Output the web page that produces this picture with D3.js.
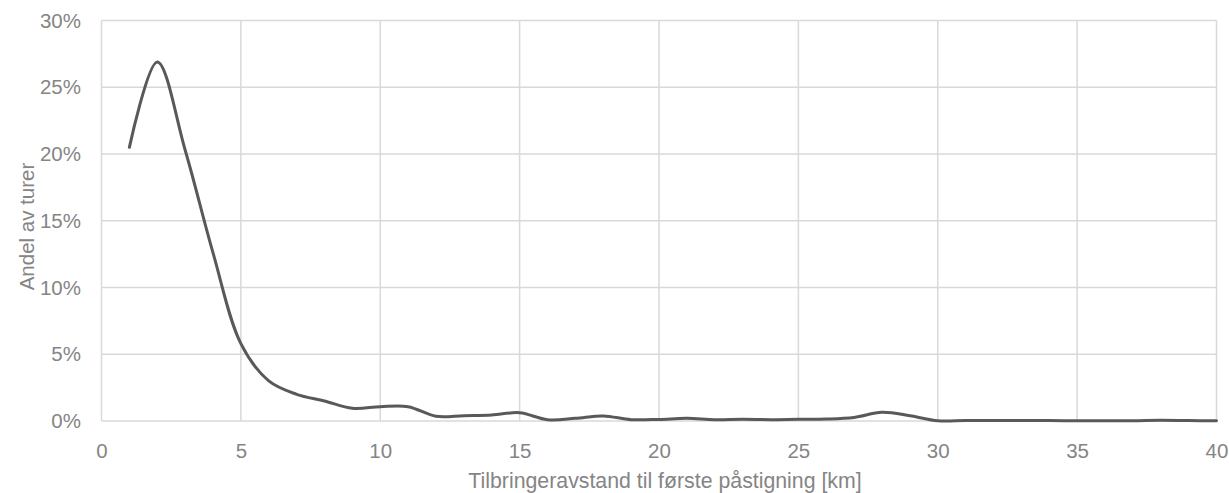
<!DOCTYPE html>
<html><head><meta charset="utf-8">
<script src="https://cdn.jsdelivr.net/npm/d3@7"></script>
<style>
html,body{margin:0;padding:0;background:#fff;}
text{font-family:"Liberation Sans",Arial,sans-serif;fill:#858585;}
</style></head>
<body>
<svg id="chart" width="1229" height="493"></svg>
<script>
const distances = [1,2,3,4,5,6,7,8,9,10,11,12,13,14,15,16,17,18,19,20,21,22,23,24,25,26,27,28,29,30,31,32,33,34,35,36,37,38,39,40];
const shares = [20.5,26.9,20.3,12.6,5.8,3.0,2.0,1.5,0.95,1.07,1.07,0.35,0.4,0.45,0.62,0.1,0.2,0.38,0.1,0.12,0.2,0.1,0.13,0.1,0.13,0.15,0.27,0.65,0.4,0.02,0.04,0.04,0.04,0.03,0.02,0.02,0.02,0.05,0.03,0.02];
const xTicks = [0,5,10,15,20,25,30,35,40];
const yTicks = [0,5,10,15,20,25,30];
const xTitle = "Tilbringeravstand til første påstigning [km]";
const yTitle = "Andel av turer";

const svg = d3.select("#chart");
const m = {left:101.5, right:1216.5, top:20.5, bottom:421};
const x = d3.scaleLinear().domain([0,40]).range([m.left, m.right]);
const y = d3.scaleLinear().domain([0,30]).range([m.bottom, m.top]);
const FS = 20.5;

const g = svg.append("g");
g.selectAll("line.h").data(yTicks).enter().append("line")
  .attr("x1", m.left).attr("x2", m.right)
  .attr("y1", d=>y(d)).attr("y2", d=>y(d))
  .attr("stroke","#d9d9d9").attr("stroke-width",1.5);
g.selectAll("line.v").data(xTicks).enter().append("line")
  .attr("y1", m.top).attr("y2", m.bottom)
  .attr("x1", d=>x(d)).attr("x2", d=>x(d))
  .attr("stroke","#d9d9d9").attr("stroke-width",1.5);

const yAxis = d3.axisLeft(y).tickValues(yTicks).tickFormat(d=>d+"%").tickSize(0).tickPadding(20.5);
const ya = svg.append("g").attr("transform",`translate(${m.left},0)`).call(yAxis);
ya.select(".domain").remove();
ya.selectAll("text").attr("font-size",FS).attr("fill","#858585").style("font-family","Liberation Sans, Arial, sans-serif");

const xAxis = d3.axisBottom(x).tickValues(xTicks).tickSize(0).tickPadding(22);
const xa = svg.append("g").attr("transform",`translate(0,${m.bottom})`).call(xAxis);
xa.select(".domain").remove();
xa.selectAll("text").attr("font-size",FS).attr("fill","#858585").style("font-family","Liberation Sans, Arial, sans-serif");

const line = d3.line().x((d,i)=>x(distances[i])).y(d=>y(d)).curve(d3.curveCatmullRom.alpha(0.5));
svg.append("path").datum(shares).attr("d", line)
  .attr("fill","none").attr("stroke","#595959").attr("stroke-width",3).attr("stroke-linejoin","round").attr("stroke-linecap","round");

svg.append("text").attr("x",665).attr("y",488).attr("text-anchor","middle")
  .attr("font-size",21.3).text(xTitle);
svg.append("text").attr("transform",`translate(34,226.5) rotate(-90)`).attr("text-anchor","middle")
  .attr("font-size",FS).text(yTitle);
</script>
</body></html>
